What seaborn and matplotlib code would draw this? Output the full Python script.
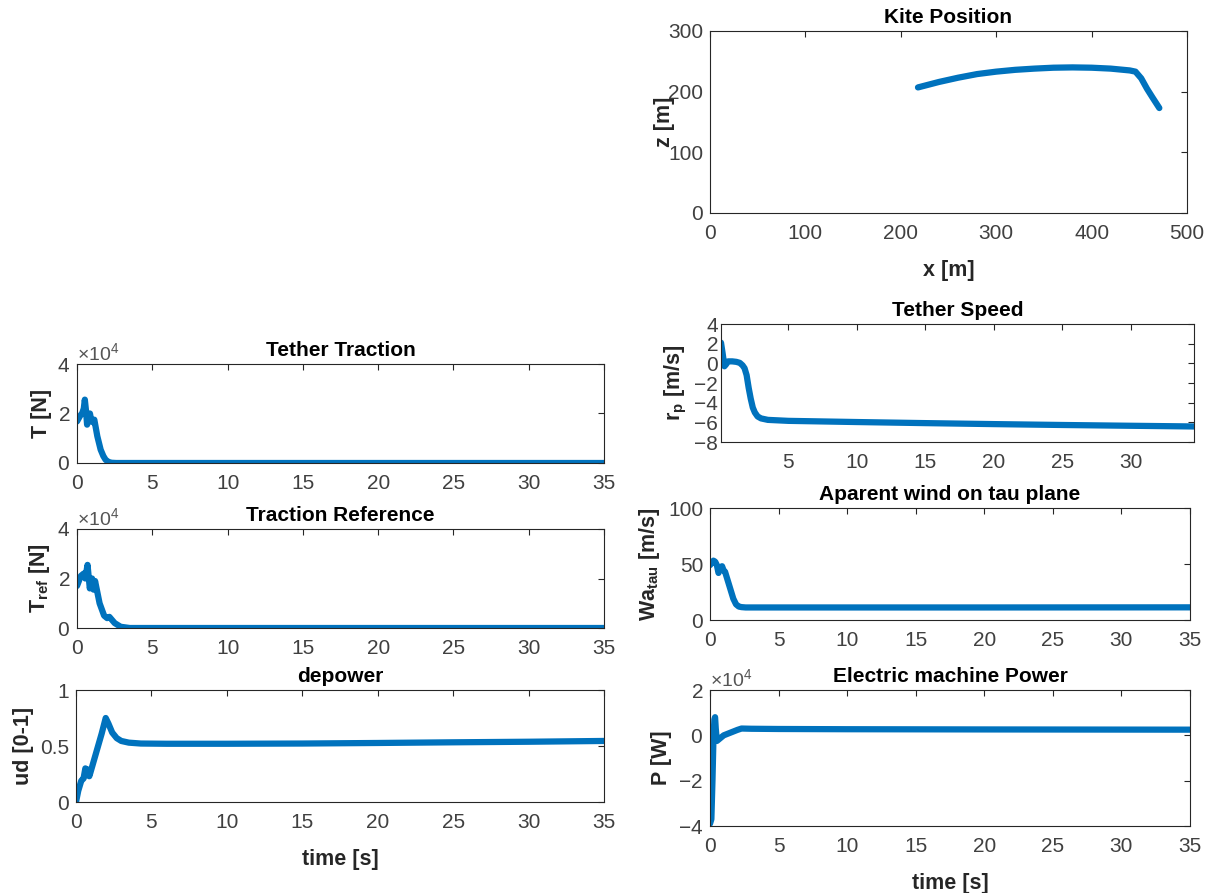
import seaborn as sns
import matplotlib.pyplot as plt
from matplotlib.ticker import FormatStrFormatter

# ---- data ----
kite_x = [218, 240, 260, 280, 300, 320, 340, 360, 380, 400, 420, 440, 446, 452, 458, 464, 471]
kite_z = [207, 216, 223, 229, 233, 236, 238, 239.5, 240, 239.5, 238, 235, 233, 222, 205, 190, 173]

trac_t = [0, 0.2, 0.35, 0.45, 0.52, 0.6, 0.67, 0.78, 0.86, 0.95, 1.05, 1.15, 1.35, 1.57, 1.75, 1.9, 2.1, 2.3, 2.6, 5, 10, 20, 35]
trac_T = [16800, 19000, 20200, 22000, 25600, 21000, 15500, 18000, 20000, 17000, 16500, 17500, 10800, 5400, 2800,
          1300, 400, 100, 0, 0, 0, 0, 0]

tref_t = [0, 0.25, 0.45, 0.55, 0.7, 0.85, 1.0, 1.1, 1.2, 1.5, 1.8, 2.0, 2.15, 2.5, 2.9, 3.5, 5, 10, 20, 35]
tref_T = [17000, 21000, 22000, 20000, 25500, 16000, 20000, 15500, 19000, 10000, 5000, 4000, 4500, 2000, 500, 0,
          0, 0, 0, 0]

dep_t = [0, 0.15, 0.35, 0.5, 0.62, 0.7, 0.78, 0.88, 0.95, 1.1, 1.4, 1.7, 1.97, 2.15, 2.4, 2.7, 3.0, 3.5, 4.3,
         6, 10, 15, 20, 25, 30, 35]
dep_u = [0, 0.1, 0.19, 0.21, 0.3, 0.24, 0.29, 0.23, 0.26, 0.33, 0.47, 0.61, 0.75, 0.70, 0.62, 0.57, 0.545, 0.53,
         0.522, 0.52, 0.52, 0.522, 0.527, 0.533, 0.538, 0.545]

spd_t = [0.08, 0.2, 0.33, 0.45, 0.6, 0.9, 1.2, 1.45, 1.65, 1.8, 1.95, 2.1, 2.25, 2.4, 2.55, 2.75, 3.0, 3.5,
         5, 10, 15, 20, 25, 30, 34.6]
spd_r = [2.1, 1.0, -0.3, -0.1, 0.2, 0.2, 0.15, 0.05, -0.2, -0.5, -1.2, -2.5, -3.6, -4.5, -5.0, -5.4, -5.6, -5.75,
         -5.85, -5.97, -6.08, -6.18, -6.27, -6.35, -6.42]

wa_t = [0, 0.12, 0.25, 0.38, 0.5, 0.62, 0.75, 0.88, 1.0, 1.1, 1.3, 1.5, 1.7, 1.9, 2.1, 2.3, 2.6, 5, 10, 20, 35]
wa_v = [49, 51, 53, 52, 49, 42, 47, 48, 44, 43, 35, 27, 19, 14, 12, 11.5, 11.2, 11.2, 11.2, 11.2, 11.3]

pow_t = [0, 0.1, 0.18, 0.25, 0.32, 0.37, 0.42, 0.5, 0.7, 1.0, 1.5, 2.0, 2.3, 3, 5, 10, 20, 35]
pow_P = [-39000, -37000, -20000, -2000, 7000, 8000, 3000, -2500, -1500, 0, 1200, 2400, 3000, 2900, 2800,
         2700, 2600, 2500]

BLUE = "#0072BD"
DARK = "#262626"
GREY = "#404040"

sns.set_style("white")
plt.rcParams["font.family"] = ["Liberation Sans", "DejaVu Sans"]
plt.rcParams["mathtext.fontset"] = "custom"
plt.rcParams["mathtext.rm"] = "Liberation Sans"
plt.rcParams["mathtext.bf"] = "Liberation Sans:bold"
plt.rcParams["mathtext.it"] = "Liberation Sans:italic"

W, H = 1215, 893
fig = plt.figure(figsize=(W / 100, H / 100), dpi=100)


def make_ax(left, top, right, bottom):
    return fig.add_axes([left / W, 1 - bottom / H, (right - left) / W, (bottom - top) / H])


def style(ax, title, ylabel, xlabel=None):
    ax.set_title(title, fontsize=15, fontweight="bold", color="black", pad=6)
    ax.set_ylabel(ylabel, fontsize=15.5, fontweight="bold", color=DARK, labelpad=4)
    if xlabel:
        ax.set_xlabel(xlabel, fontsize=15.5, fontweight="bold", color=DARK, labelpad=12)
    else:
        ax.set_xlabel("")
    ax.tick_params(direction="in", length=4, width=0.8, top=True, right=True,
                   labelsize=15, colors=DARK, labelcolor=GREY)
    ax.tick_params(axis="x", pad=8)
    ax.tick_params(axis="y", pad=5)
    for s in ax.spines.values():
        s.set_color(DARK)
        s.set_linewidth(0.8)
        s.set_visible(True)


def sci(ax):
    ax.ticklabel_format(style="sci", axis="y", scilimits=(0, 0), useMathText=True)
    ax.yaxis.get_offset_text().set_fontsize(14)
    ax.yaxis.get_offset_text().set_color("#555555")


lw = 4.5

# Kite Position
ax = make_ax(710, 31, 1187, 213)
sns.lineplot(x=kite_x, y=kite_z, ax=ax, color=BLUE, linewidth=lw, sort=False)
ax.set_xlim(0, 500)
ax.set_ylim(0, 300)
ax.set_xticks(range(0, 501, 100))
ax.set_yticks(range(0, 301, 100))
style(ax, "Kite Position", "z [m]", "x [m]")
ax.yaxis.labelpad = -5

# Tether Traction
ax = make_ax(77, 364, 604, 463)
sns.lineplot(x=trac_t, y=trac_T, ax=ax, color=BLUE, linewidth=lw)
ax.set_xlim(0, 35)
ax.set_ylim(0, 40000)
ax.set_xticks(range(0, 36, 5))
ax.set_yticks([0, 20000, 40000])
style(ax, "Tether Traction", "T [N]")
sci(ax)

# Traction Reference
ax = make_ax(77, 529, 604, 628)
sns.lineplot(x=tref_t, y=tref_T, ax=ax, color=BLUE, linewidth=lw)
ax.set_xlim(0, 35)
ax.set_ylim(0, 40000)
ax.set_xticks(range(0, 36, 5))
ax.set_yticks([0, 20000, 40000])
style(ax, "Traction Reference", r"$\mathbf{T_{ref}}$ [N]")
sci(ax)

# depower
ax = make_ax(76, 690, 604, 802)
sns.lineplot(x=dep_t, y=dep_u, ax=ax, color=BLUE, linewidth=lw)
ax.set_xlim(0, 35)
ax.set_ylim(0, 1)
ax.set_xticks(range(0, 36, 5))
ax.set_yticks([0, 0.5, 1])
ax.yaxis.set_major_formatter(FormatStrFormatter("%g"))
style(ax, "depower", "ud [0-1]", "time [s]")

# Tether Speed
ax = make_ax(721, 324, 1194, 442)
sns.lineplot(x=spd_t, y=spd_r, ax=ax, color=BLUE, linewidth=lw)
ax.set_xlim(0.08, 34.6)
ax.set_ylim(-8, 4)
ax.set_xticks(range(5, 31, 5))
ax.set_yticks(range(-8, 5, 2))
style(ax, "Tether Speed", r"$\mathbf{r_p}$ [m/s]")
ax.tick_params(axis="y", pad=2)

# Aparent wind
ax = make_ax(710, 508, 1190, 620)
sns.lineplot(x=wa_t, y=wa_v, ax=ax, color=BLUE, linewidth=lw)
ax.set_xlim(0, 35)
ax.set_ylim(0, 100)
ax.set_xticks(range(0, 36, 5))
ax.set_yticks([0, 50, 100])
style(ax, "Aparent wind on tau plane", r"$\mathbf{Wa_{tau}}$ [m/s]")

# Electric machine Power
ax = make_ax(710, 690, 1190, 826)
sns.lineplot(x=pow_t, y=pow_P, ax=ax, color=BLUE, linewidth=lw)
ax.set_xlim(0, 35)
ax.set_ylim(-40000, 20000)
ax.set_xticks(range(0, 36, 5))
ax.set_yticks([-40000, -20000, 0, 20000])
style(ax, "Electric machine Power", "P [W]", "time [s]")
sci(ax)

fig.savefig("out.png", dpi=100, facecolor="white")
